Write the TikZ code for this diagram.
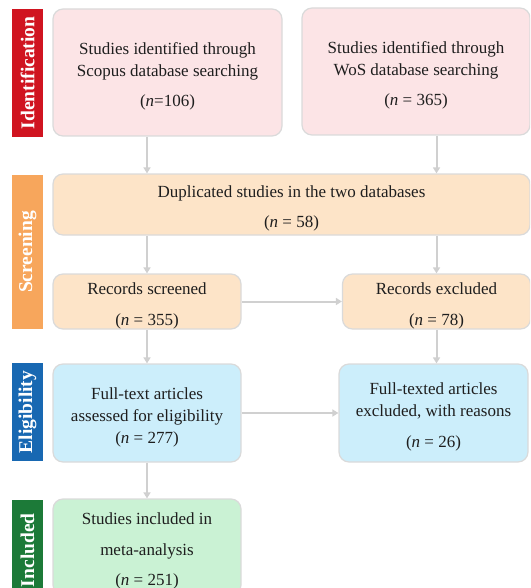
\documentclass[tikz,border=0pt]{standalone}
\usepackage{fontspec}
\setmainfont{Liberation Serif}
\usetikzlibrary{arrows.meta}
\definecolor{pinkF}{RGB}{252,228,230}
\definecolor{peachF}{RGB}{253,228,200}
\definecolor{blueF}{RGB}{204,238,251}
\definecolor{greenF}{RGB}{202,242,212}
\definecolor{redB}{RGB}{208,20,32}
\definecolor{orangeB}{RGB}{247,166,92}
\definecolor{blueB}{RGB}{24,104,178}
\definecolor{greenB}{RGB}{28,122,56}
\definecolor{edgeC}{RGB}{218,218,218}
\definecolor{arrC}{RGB}{208,208,208}
\definecolor{txtC}{RGB}{30,30,30}
\tikzset{
  box/.style={draw=edgeC, line width=1.2pt, rounded corners=10pt, align=center,
    inner sep=0pt, text=txtC, font=\fontsize{17}{22}\selectfont},
  sidebar/.style={rotate=90, inner sep=0pt, text=white,
    font=\fontsize{19.5}{22}\selectfont\bfseries},
  arr/.style={draw=arrC, line width=2pt, -{Triangle[width=7pt,length=6pt]}}
}
\newcommand{\nn}{\textit{n}}
\newcommand{\tp}{\rule{0pt}{20pt}}
\begin{document}
\begin{tikzpicture}[x=1pt,y=-1pt]
\useasboundingbox (0,0) rectangle (530,588);
\clip (0,0) rectangle (530,588);
% side bars
\node[sidebar, fill=redB, minimum width=128, minimum height=31] (sid) at (27.5,73) {Identification};
\node[sidebar, fill=orangeB, minimum width=154, minimum height=31] (ssc) at (27.5,252) {Screening};
\node[sidebar, fill=blueB, minimum width=98, minimum height=31] (sel) at (27.5,412) {Eligibility};
\node[sidebar, fill=greenB, minimum width=100, minimum height=31, anchor=east] (sin) at (27.5,500) {Included};
% boxes
\node[box, fill=pinkF, minimum width=229, minimum height=127] (b1) at (167.5,72.5)
  {\tp Studies identified through\\Scopus database searching\\[8pt](\nn=106)};
\node[box, fill=pinkF, minimum width=228, minimum height=127] (b2) at (416,71.5)
  {\tp Studies identified through\\WoS database searching\\[8pt](\nn\ = 365)};
\node[box, fill=peachF, minimum width=477, minimum height=61] (dup) at (291.5,204.5)
  {\tp Duplicated studies in the two databases\\[8pt](\nn\ = 58)};
\node[box, fill=peachF, minimum width=188, minimum height=55] (rs) at (147,301.5)
  {\tp Records screened\\[9pt](\nn\ = 355)};
\node[box, fill=peachF, minimum width=188, minimum height=55] (re) at (436.5,301.5)
  {\tp Records excluded\\[9pt](\nn\ = 78)};
\node[box, fill=blueF, minimum width=188, minimum height=98] (ft) at (147,413)
  {\tp Full-text articles\\assessed for eligibility\\(\nn\ = 277)};
\node[box, fill=blueF, minimum width=189, minimum height=98] (fte) at (433.5,413)
  {\tp Full-texted articles\\excluded, with reasons\\[9pt](\nn\ = 26)};
\node[box, fill=greenF, minimum width=188, minimum height=96] (inc) at (147,547)
  {\tp Studies included in\\[9pt]meta-analysis\\[8pt](\nn\ = 251)};
% connectors
\draw[arr] (b1.south -| rs.north) -- (dup.north -| rs.north);
\draw[arr] (b2.south -| re.north) -- (dup.north -| re.north);
\draw[arr] (dup.south -| rs.north) -- (rs.north);
\draw[arr] (dup.south -| re.north) -- (re.north);
\draw[arr] (rs.east) -- (re.west);
\draw[arr] (rs.south) -- (ft.north);
\draw[arr] (re.south) -- (fte.north -| re.south);
\draw[arr] (ft.east) -- (fte.west);
\draw[arr] (ft.south) -- (inc.north);
\end{tikzpicture}
\end{document}
